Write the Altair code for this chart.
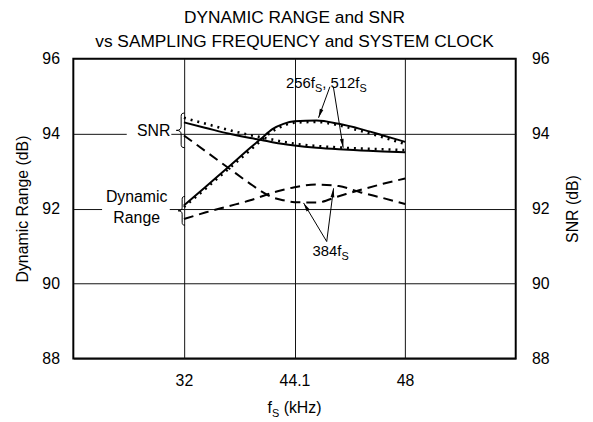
import math
import altair as alt
import pandas as pd

# ---------------- data ----------------
title_lines = ["DYNAMIC RANGE and SNR", "vs SAMPLING FREQUENCY and SYSTEM CLOCK"]
fs_tick_pos = [1, 2, 3]
fs_tick_labels = ["32", "44.1", "48"]
db_ticks = [88, 90, 92, 94, 96]

pos = [1.0, 1.2, 1.4, 1.6, 1.7, 1.8, 1.9, 2.0, 2.2, 2.4, 2.6, 2.8, 3.0]
dr_256 = [92.08, 92.59, 93.10, 93.62, 93.87, 94.12, 94.26, 94.33, 94.35, 94.26, 94.12, 93.95, 93.78]
dr_512 = [92.04, 92.54, 93.05, 93.56, 93.82, 94.06, 94.21, 94.29, 94.31, 94.22, 94.07, 93.90, 93.72]
snr_256 = [94.30, 94.15, 94.00, 93.88, 93.83, 93.77, 93.72, 93.68, 93.62, 93.58, 93.55, 93.52, 93.50]
snr_512 = [94.42, 94.26, 94.10, 93.96, 93.90, 93.84, 93.78, 93.73, 93.67, 93.63, 93.60, 93.58, 93.56]
dr_384 = [91.72, 91.90, 92.06, 92.22, 92.32, 92.42, 92.50, 92.57, 92.64, 92.60, 92.43, 92.28, 92.12]
snr_384 = [93.95, 93.52, 93.09, 92.66, 92.46, 92.30, 92.22, 92.17, 92.16, 92.33, 92.50, 92.66, 92.80]

# annotation anchors (data units)
arrow_apex_x = [2.320, 2.351, 2.291, 2.291]
arrow_apex_y = [95.25, 95.25, 91.12, 91.12]
arrow_tip_x = [2.217, 2.440, 2.082, 2.353]
arrow_tip_y = [94.42, 93.62, 92.15, 92.54]

# ---------------- layout / style ----------------
W, H = 447, 303
SX = W / 4.0
SY = H / 8.0
FONT = "Liberation Sans"
EM = {'0': .556, '1': .556, '2': .556, '3': .556, '4': .556, '5': .556, '6': .556,
      '7': .556, '8': .556, '9': .556, 'f': .278, 'S': .667, ',': .278, ' ': .278,
      '(': .333, ')': .333, 'k': .5, 'H': .722, 'z': .5}


def tw(s, size):
    return sum(EM.get(c, 0.556) for c in s) * size


xscale = alt.Scale(domain=[0, 4], nice=False)
yscale = alt.Scale(domain=[88, 96], nice=False, zero=False)

label_expr = "'" + fs_tick_labels[-1] + "'"
for p, l in reversed(list(zip(fs_tick_pos[:-1], fs_tick_labels[:-1]))):
    label_expr = f"datum.value == {p} ? '{l}' : " + label_expr

xaxis = alt.Axis(values=fs_tick_pos, labelExpr=label_expr, grid=True, gridColor="#111",
                 gridWidth=1, ticks=False, tickSize=0, domain=False, labelFontSize=16,
                 labelPadding=14, title=None, labelFont=FONT, labelColor="black",
                 labelFlush=False)


def X(field="x"):
    return alt.X(f"{field}:Q", scale=xscale, axis=xaxis)


def Y(field="y", axis=None):
    return alt.Y(f"{field}:Q", scale=yscale, axis=axis)


left_axis = alt.Axis(values=db_ticks, grid=True, gridColor="#111", gridWidth=1, ticks=False,
                     tickSize=0, domain=False, labelFontSize=16, labelPadding=14,
                     labelFont=FONT, labelColor="black", title="Dynamic Range (dB)",
                     titleFont=FONT, titleFontSize=16, titleFontWeight="normal",
                     titleColor="black", titlePadding=12, labelFlush=False)
right_axis = alt.Axis(orient="right", values=db_ticks, grid=False, ticks=False, tickSize=0,
                      domain=False, labelFontSize=16, labelPadding=16, labelFont=FONT,
                      labelColor="black", title="SNR (dB)", titleFont=FONT, titleFontSize=16,
                      titleFontWeight="normal", titleColor="black", titlePadding=16,
                      titleAngle=270, titleBaseline="top", labelFlush=False)

rows = []
for name, vals in [("dr_384", dr_384), ("snr_384", snr_384), ("dr_512", dr_512),
                   ("snr_512", snr_512), ("dr_256", dr_256), ("snr_256", snr_256)]:
    for p, v in zip(pos, vals):
        rows.append({"x": p, "y": v, "series": name})
df = pd.DataFrame(rows)

styles = {
    "dr_384": dict(strokeDash=[10, 6], strokeWidth=2),
    "snr_384": dict(strokeDash=[10, 6], strokeWidth=2),
    "dr_512": dict(strokeDash=[2, 5], strokeWidth=2.6),
    "snr_512": dict(strokeDash=[2, 5], strokeWidth=2.6),
    "dr_256": dict(strokeWidth=2),
    "snr_256": dict(strokeWidth=2),
}

layers = []
for name in ["dr_384", "snr_384", "dr_512", "snr_512", "dr_256", "snr_256"]:
    ax = None
    if name == "dr_256":
        ax = left_axis
    if name == "snr_256":
        ax = right_axis
    layers.append(
        alt.Chart(df).transform_filter(alt.datum.series == name)
        .mark_line(color="black", interpolate="monotone", **styles[name])
        .encode(x=X(), y=Y(axis=ax))
    )

# white boxes behind the left labels (gridline gaps)
gaps = pd.DataFrame({"x": [0.483, 0.26], "x2": [0.886, 0.872],
                     "y": [93.9, 91.85], "y2": [94.22, 92.15]})
layers.insert(0, alt.Chart(gaps).mark_rect(color="white").encode(
    x=X(), x2="x2:Q", y=Y(), y2="y2:Q"))

# braces
BRACE = ("M0.2,-1 C0.04,-1 0,-0.94 0,-0.8 L0,-0.24 C0,-0.08 -0.08,0 -0.28,0 "
         "C-0.08,0 0,0.08 0,0.24 L0,0.8 C0,0.94 0.04,1 0.2,1")
braces = pd.DataFrame({"x": [0.975, 0.984], "y": [94.086, 91.94], "s": [1225, 841]})
layers.append(alt.Chart(braces).mark_point(shape=BRACE, filled=False, stroke="black",
                                           strokeWidth=1, opacity=1).encode(
    x=X(), y=Y(), size=alt.Size("s:Q", scale=None)))

# arrows
arr = []
for ax_, ay_, tx_, ty_ in zip(arrow_apex_x, arrow_apex_y, arrow_tip_x, arrow_tip_y):
    dxp = (tx_ - ax_) * SX
    dyp = -(ty_ - ay_) * SY
    L = math.hypot(dxp, dyp)
    ux, uy = dxp / L, dyp / L
    ang = math.degrees(math.atan2(dxp, -dyp)) % 360
    back = 4.5
    arr.append({"x": ax_, "y": ay_, "x2": tx_, "y2": ty_,
                "hx": tx_ - ux * back / SX, "hy": ty_ + uy * back / SY, "ang": ang})
adf = pd.DataFrame(arr)
layers.append(alt.Chart(adf).mark_rule(color="black", strokeWidth=1).encode(
    x=X(), y=Y(), x2="x2:Q", y2="y2:Q"))
layers.append(alt.Chart(adf).mark_point(shape="M0,-1L0.42,1L-0.42,1Z", filled=True,
                                        color="black", opacity=1, size=81).encode(
    x=X("hx"), y=Y("hy"), angle=alt.Angle("ang:Q", scale=None)))

# plain text labels
plain = pd.DataFrame({"x": [0.877], "y": [93.941], "t": ["SNR"]})
layers.append(alt.Chart(plain).mark_text(align="right", baseline="alphabetic", fontSize=16,
                                         font=FONT, color="black").encode(
    x=X(), y=Y(), text="t:N"))
plain2 = pd.DataFrame({"x": [0.573, 0.573], "y": [92.172, 91.609], "t": ["Dynamic", "Range"]})
layers.append(alt.Chart(plain2).mark_text(align="center", baseline="alphabetic", fontSize=16,
                                          font=FONT, color="black").encode(
    x=X(), y=Y(), text="t:N"))

# chart title as two centred lines above the plot
for line, dy in zip(title_lines, [-36, -11.5]):
    layers.append(alt.Chart(pd.DataFrame({"x": [2.0], "y": [96.0], "t": [line]})).mark_text(
        align="center", baseline="alphabetic", fontSize=17.5, font=FONT, color="black", dy=dy
    ).encode(x=X(), y=Y(), text="t:N"))

# rich labels with subscripts
rich = [
    (1.924, 95.216, [("256f", False), ("S", True), (", 512f", False), ("S", True)], 15, 11, 0, "left"),
    (2.163, 90.727, [("384f", False), ("S", True)], 15, 11, 0, "left"),
    (2.0, 88.0, [("f", False), ("S", True), (" (kHz)", False)], 16, 11, 55, "center"),
]
for x0, y0, pieces, size, subsize, bdy, align in rich:
    total = sum(tw(t, subsize if sb else size) for t, sb in pieces)
    off = 0 if align == "left" else -total / 2
    main_rows, sub_rows = [], []
    for t, sb in pieces:
        fsz = subsize if sb else size
        lead = len(t) - len(t.lstrip())
        r = {"x": x0 + (off + tw(t[:lead], fsz)) / SX, "y": y0, "t": t.strip()}
        (sub_rows if sb else main_rows).append(r)
        off += tw(t, fsz)
    layers.append(alt.Chart(pd.DataFrame(main_rows)).mark_text(
        align="left", baseline="alphabetic", fontSize=size, font=FONT, color="black", dy=bdy
    ).encode(x=X(), y=Y(), text="t:N"))
    layers.append(alt.Chart(pd.DataFrame(sub_rows)).mark_text(
        align="left", baseline="alphabetic", fontSize=subsize, font=FONT, color="black",
        dy=bdy + 4).encode(x=X(), y=Y(), text="t:N"))

chart = alt.layer(*layers).resolve_scale(y="independent").properties(
    width=W, height=H,
    padding={"left": 66, "top": 49, "right": 70, "bottom": 60},
    autosize=alt.AutoSizeParams(type="none"),
).configure_view(stroke="black", strokeWidth=2)

chart.save("out.html", embed_options={"renderer": "svg", "actions": False})
